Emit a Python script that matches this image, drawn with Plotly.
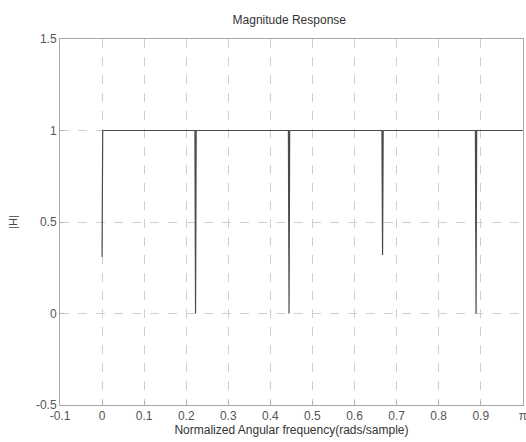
import plotly.graph_objects as go

# Notch positions (normalized angular frequency, x pi rad/sample) and depths of |H|
notch_freqs = [0.0, 0.2222, 0.4444, 0.6667, 0.8889]
notch_depths = [0.31, 0.0, 0.0, 0.32, 0.0]
passband_mag = 1.0
freq_end = 1.0
notch_halfwidth = 0.0015

x_tick_vals = [-0.1, 0, 0.1, 0.2, 0.3, 0.4, 0.5, 0.6, 0.7, 0.8, 0.9, 1.0]
x_tick_text = ["-0.1", "0", "0.1", "0.2", "0.3", "0.4", "0.5", "0.6", "0.7", "0.8", "0.9", "π"]
y_tick_vals = [-0.5, 0, 0.5, 1, 1.5]
y_tick_text = ["-0.5", "0", "0.5", "1", "1.5"]

# Build the response curve from the notch lists
w, h = [], []
for f, d in zip(notch_freqs, notch_depths):
    if f - notch_halfwidth > 0:
        w.append(f - notch_halfwidth); h.append(passband_mag)
    w.append(f); h.append(d)
    w.append(f + notch_halfwidth); h.append(passband_mag)
w.append(freq_end); h.append(passband_mag)

fig = go.Figure()
fig.add_trace(go.Scatter(x=w, y=h, mode="lines",
                         line=dict(color="#4a4a4a", width=1.2),
                         showlegend=False, hoverinfo="skip", cliponaxis=False))

fam = "Liberation Sans, Arial, sans-serif"
font = dict(family=fam, size=12, color="#555")
grid = dict(showgrid=True, gridcolor="#cfcfcf", griddash="dash", gridwidth=1,
            zeroline=False, showline=True, linecolor="#a8a8a8", linewidth=1, mirror=True,
            ticks="inside", ticklen=4, tickcolor="#b0b0b0", tickfont=font,
            ticklabeloverflow="allow", automargin=False)

fig.update_layout(
    width=526, height=442,
    margin=dict(l=60, r=3, t=39, b=37),
    paper_bgcolor="white", plot_bgcolor="white",
    title=dict(text="Magnitude Response", x=0.55, xanchor="center", y=0.955, yanchor="middle",
               font=dict(family=fam, size=12, color="#333")),
    xaxis=dict(range=[-0.1, 1.0005], tickvals=x_tick_vals, ticktext=x_tick_text,
               title=dict(text="Normalized Angular frequency(rads/sample)", standoff=0,
                          font=dict(family=fam, size=12, color="#333")),
               **grid),
    yaxis=dict(range=[-0.5, 1.5], tickvals=y_tick_vals, ticktext=y_tick_text,
               title=dict(text="|H|", standoff=16,
                          font=dict(family=fam, size=11, color="#444")),
               **grid),
)

fig.write_html("out.html")
